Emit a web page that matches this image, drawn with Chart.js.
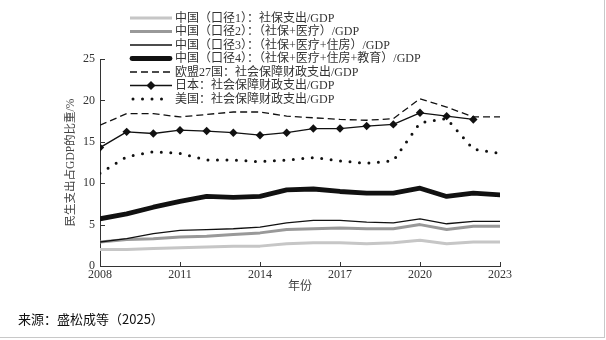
<!DOCTYPE html>
<html>
<head>
<meta charset="utf-8">
<script src="https://cdn.jsdelivr.net/npm/chart.js@4/dist/chart.umd.min.js"></script>
<style>
  html,body{margin:0;padding:0;background:#fff;}
  #wrap{position:relative;width:604px;height:337px;border-right:1px solid #c8c8c8;border-bottom:1px solid #c8c8c8;overflow:hidden;}
  canvas{position:absolute;left:0;top:0;}
  #note{position:absolute;left:18px;top:309px;font-family:"Noto Sans CJK SC",sans-serif;font-size:13px;color:#111;}
</style>
</head>
<body>
<div id="wrap">
  <canvas id="c" width="606" height="340"></canvas>
  <div id="note">来源：盛松成等（2025）</div>
</div>
<script>
const years = [2008,2009,2010,2011,2012,2013,2014,2015,2016,2017,2018,2019,2020,2021,2022,2023];
const xTicks = [2008,2011,2014,2017,2020,2023];
const yTicks = [0,5,10,15,20,25];
const seriesNames = [
  "中国（口径1）：社保支出/GDP",
  "中国（口径2）：（社保+医疗）/GDP",
  "中国（口径3）：（社保+医疗+住房）/GDP",
  "中国（口径4）：（社保+医疗+住房+教育）/GDP",
  "欧盟27国：社会保障财政支出/GDP",
  "日本：社会保障财政支出/GDP",
  "美国：社会保障财政支出/GDP"
];
const cn1 = [2.0,2.0,2.1,2.2,2.3,2.4,2.4,2.7,2.8,2.8,2.7,2.8,3.1,2.7,2.9,2.9];
const cn2 = [2.9,3.2,3.3,3.5,3.6,3.8,4.0,4.4,4.5,4.6,4.5,4.5,5.0,4.4,4.8,4.8];
const cn3 = [2.9,3.3,3.9,4.3,4.4,4.5,4.7,5.2,5.5,5.5,5.3,5.2,5.7,5.1,5.4,5.4];
const cn4 = [5.7,6.3,7.1,7.8,8.4,8.3,8.4,9.2,9.3,9.0,8.8,8.8,9.4,8.4,8.8,8.6];
const eu27 = [17.0,18.4,18.4,18.0,18.3,18.6,18.6,18.1,17.9,17.7,17.6,17.8,20.2,19.2,18.0,18.0];
const japan = [14.3,16.2,16.0,16.4,16.3,16.1,15.8,16.1,16.6,16.6,16.9,17.1,18.5,18.1,17.7,null];
const usa = [11.2,13.2,13.8,13.6,12.8,12.8,12.6,12.8,13.1,12.7,12.4,12.7,17.3,17.8,14.1,13.6];

const FONT_LATIN = "'Liberation Serif','Noto Sans CJK SC',serif";
const toPts = arr => years.map((y,i)=>({x:y,y:arr[i]}));

const styles = [
  {color:'#c6c6c6', width:3, dash:[], cap:'butt', point:false},
  {color:'#999999', width:3, dash:[], cap:'butt', point:false},
  {color:'#111', width:1.3, dash:[], cap:'butt', point:false},
  {color:'#111', width:4.8, dash:[], cap:'round', point:false},
  {color:'#111', width:1.3, dash:[7,4], cap:'butt', point:false},
  {color:'#111', width:1.3, dash:[], cap:'butt', point:true},
  {color:'#111', width:3, dash:[0,9.5], cap:'round', point:false}
];
const values = [cn1,cn2,cn3,cn4,eu27,japan,usa];

const datasets = values.map((v,i)=>({
  label: seriesNames[i],
  data: toPts(v),
  borderColor: styles[i].color,
  backgroundColor: styles[i].color,
  borderWidth: styles[i].width,
  borderDash: styles[i].dash,
  borderCapStyle: styles[i].cap,
  borderJoinStyle: 'round',
  pointRadius: styles[i].point ? 4.2 : 0,
  pointStyle: 'rectRot',
  pointBackgroundColor: '#111',
  pointBorderWidth: 0,
  tension: 0,
  fill: false,
  spanGaps: false,
  order: 7 - i
}));

const innerTicks = {
  id:'innerTicks',
  afterDraw(chart){
    const ctx = chart.ctx, xs = chart.scales.x, ys = chart.scales.y;
    const a = chart.chartArea;
    ctx.save();
    ctx.strokeStyle = '#333'; ctx.lineWidth = 1;
    ctx.beginPath();
    xTicks.forEach(t=>{ const px = Math.round(xs.getPixelForValue(t))+0.5; ctx.moveTo(px,a.bottom); ctx.lineTo(px,a.bottom-4); });
    yTicks.forEach(t=>{ const py = Math.round(ys.getPixelForValue(t))+0.5; ctx.moveTo(a.left,py); ctx.lineTo(a.left+5,py); });
    ctx.stroke();
    ctx.restore();
  }
};

const legendPlugin = {
  id:'customLegend',
  afterDraw(chart){
    const ctx = chart.ctx;
    const x0 = 130, x1 = 172, tx = 175, top = 18, step = 13.5;
    ctx.save();
    chart.data.datasets.forEach((ds,i)=>{
      const st = styles[i];
      const y = top + i*step;
      ctx.beginPath();
      ctx.strokeStyle = st.color; ctx.lineWidth = st.width;
      ctx.setLineDash(st.dash); ctx.lineCap = st.cap;
      if (i===6){ ctx.moveTo(133,y); ctx.lineTo(166,y); }
      else if (i===3){ ctx.moveTo(x0+2,y); ctx.lineTo(x1-2,y); }
      else { ctx.moveTo(x0,y); ctx.lineTo(x1,y); }
      ctx.stroke();
      ctx.setLineDash([]);
      if (st.point){
        const cx = (x0+x1)/2, r = 4.5;
        ctx.fillStyle = '#111';
        ctx.beginPath(); ctx.moveTo(cx,y-r); ctx.lineTo(cx+r,y); ctx.lineTo(cx,y+r); ctx.lineTo(cx-r,y); ctx.closePath(); ctx.fill();
      }
      ctx.fillStyle = '#333';
      ctx.font = "12px " + FONT_LATIN;
      ctx.textBaseline = 'middle'; ctx.textAlign = 'left';
      ctx.fillText(ds.label, tx, y+0.5);
    });
    ctx.restore();
  }
};

new Chart(document.getElementById('c'), {
  type:'line',
  data:{ datasets },
  options:{
    responsive:false,
    animation:false,
    devicePixelRatio:1,
    layout:{ padding:{ left:64, top:59, right:106, bottom:46 } },
    plugins:{ legend:{display:false}, tooltip:{enabled:false} },
    scales:{
      x:{
        type:'linear', min:2008, max:2023,
        afterBuildTicks(scale){ scale.ticks = xTicks.map(v=>({value:v})); },
        afterFit(scale){ scale.height = 28; },
        grid:{ display:false, drawTicks:false },
        border:{ display:true, color:'#333', width:1 },
        ticks:{ padding:2, color:'#333', font:{family:FONT_LATIN, size:12}, callback:v=>String(v), maxRotation:0 },
        title:{ display:true, text:'年份', color:'#444', font:{family:FONT_LATIN, size:12}, padding:0 }
      },
      y:{
        min:0, max:25,
        afterBuildTicks(scale){ scale.ticks = yTicks.map(v=>({value:v})); },
        afterFit(scale){ scale.width = 36; },
        grid:{ display:false, drawTicks:false },
        border:{ display:true, color:'#333', width:1 },
        ticks:{ padding:5, color:'#333', font:{family:FONT_LATIN, size:12} },
        title:{ display:true, text:'民生支出占GDP的比重/%', color:'#444', font:{family:FONT_LATIN, size:11.5}, padding:0 }
      }
    }
  },
  plugins:[innerTicks, legendPlugin]
});
</script>
</body>
</html>
